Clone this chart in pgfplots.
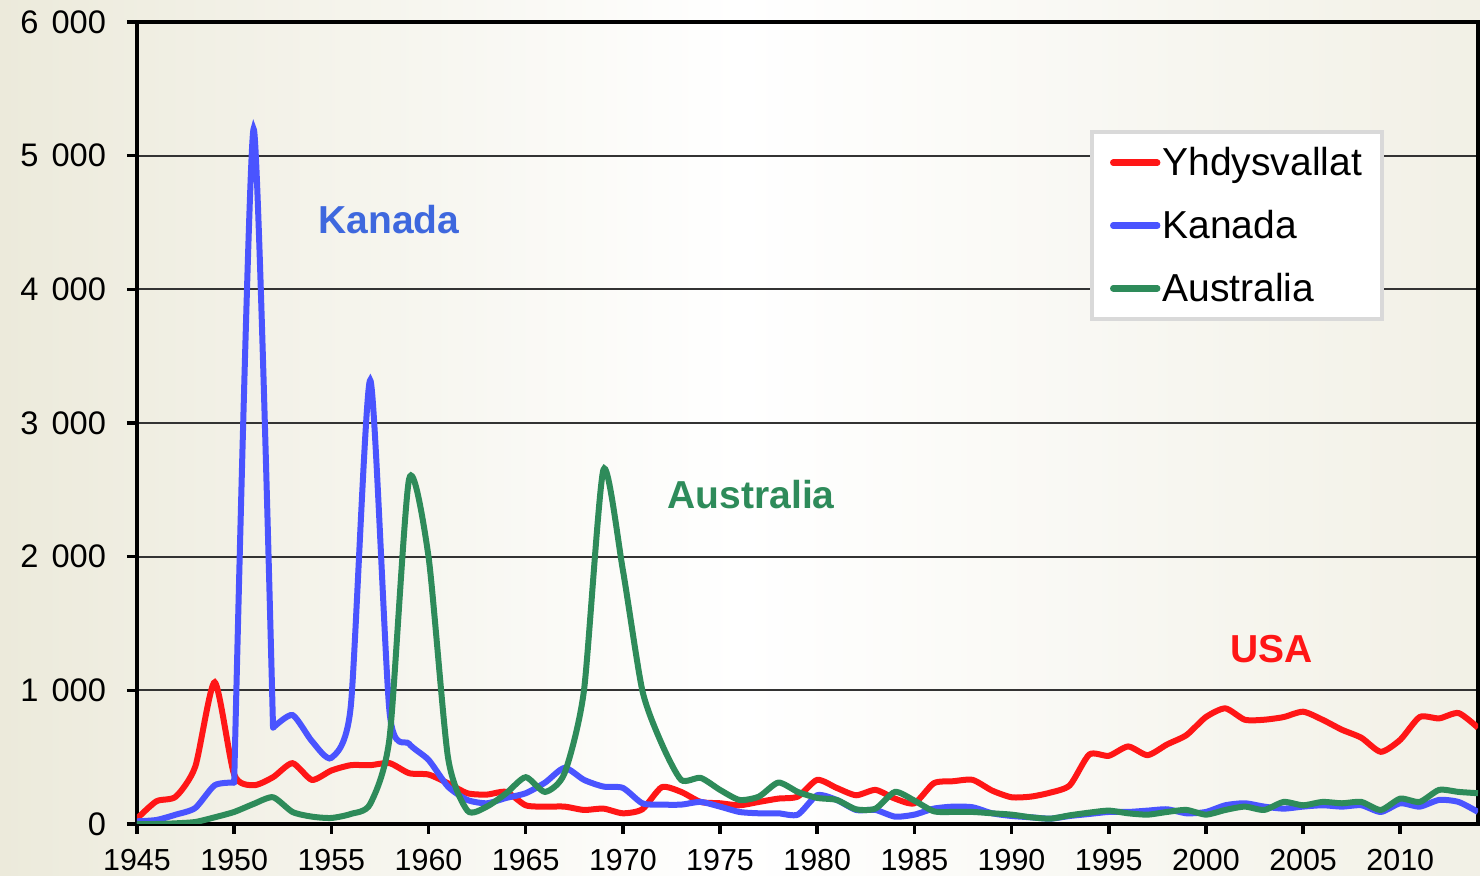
\documentclass[border=0pt]{standalone}
\usepackage{fontspec}
\setmainfont{Liberation Sans}
\usepackage{pgfplots}
\usepackage{pgfplotstable}
\pgfplotsset{compat=1.18}
\usetikzlibrary{backgrounds}
\definecolor{usared}{RGB}{255,22,22}
\definecolor{canblue}{RGB}{74,84,255}
\definecolor{ausgreen}{RGB}{46,139,90}
\definecolor{kantext}{RGB}{62,104,222}
\definecolor{bgbeige}{RGB}{236,234,219}

\pgfplotstableread{
year usa can aus
1945 40 20 0
1946 170 30 0
1947 205 70 5
1948 430 120 15
1949 1060 290 50
1950 370 310 90
1951 290 5200 150
1952 350 720 200
1953 455 815 90
1954 330 620 55
1955 400 495 45
1956 440 880 75
1957 440 3320 150
1958 455 830 650
1959 380 600 2580
1960 370 480 2000
1961 305 280 500
1962 230 180 100
1963 220 155 130
1964 240 195 230
1965 140 230 350
1966 130 310 240
1967 130 420 380
1968 105 330 1000
1969 115 280 2650
1970 80 270 1900
1971 110 155 1000
1972 275 145 600
1973 240 145 330
1974 165 165 345
1975 155 130 255
1976 140 90 180
1977 165 80 205
1978 190 80 310
1979 205 70 240
1980 330 215 195
1981 270 180 180
1982 215 105 110
1983 255 105 115
1984 190 55 240
1985 155 70 175
1986 305 115 95
1987 320 130 90
1988 330 125 90
1989 250 80 80
1990 200 60 70
1991 205 50 50
1992 235 40 40
1993 290 60 65
1994 520 75 85
1995 510 90 100
1996 580 90 80
1997 515 100 70
1998 595 110 90
1999 665 80 105
2000 800 90 70
2001 865 140 105
2002 780 155 130
2003 780 130 105
2004 800 115 165
2005 840 130 140
2006 780 140 165
2007 705 130 155
2008 645 140 165
2009 540 90 105
2010 630 155 190
2011 800 130 165
2012 790 180 255
2013 830 165 240
2014 720 90 230
}\datatable

\begin{document}
\begin{tikzpicture}
\begin{axis}[
  scale only axis,
  width=670.5pt, height=401pt,
  xmin=1945, xmax=2014, ymin=0, ymax=6000,
  xtick={1945,1950,...,2010},
  ytick={0,1000,...,6000},
  scaled y ticks=false,
  tick pos=left,
  tick align=outside,
  major tick length=5pt,
  every tick/.style={black, line width=1.8pt},
  axis line style={black, line width=1.8pt},
  ymajorgrids,
  major grid style={black!80, line width=1.1pt},
  clip mode=individual,
  /pgf/number format/assume math mode=true,
  xticklabel style={font=\fontsize{15.2}{18}\selectfont, /pgf/number format/1000 sep={}, yshift=-4pt},
  yticklabel style={font=\fontsize{16.3}{19}\selectfont, /pgf/number format/1000 sep={\hskip0.4em}, xshift=-7pt},
  legend style={at={(0.7107,0.8653)}, anchor=north west, draw=black!15, line width=2pt, fill=white,
    font=\fontsize{19.5}{22}\selectfont, inner xsep=9pt, inner ysep=1pt,
    nodes={inner xsep=1pt, inner ysep=6.5pt}, row sep=2.8pt},
  legend cell align=left,
  legend image code/.code={\draw[line width=3.2pt, line cap=round] (0pt,0pt) -- (22pt,0pt);},
]
\addplot[usared, line width=3pt, smooth, tension=0.4] table[x=year, y=usa] {\datatable};
\addlegendentry{Yhdysvallat}
\addplot[canblue, line width=3pt, smooth, tension=0.4, restrict x to domain=1952:2014] table[x=year, y=can] {\datatable};
\addlegendentry{Kanada}
\addplot[canblue, line width=3pt, smooth, tension=0.4, line cap=round, restrict x to domain=1945:1950, forget plot] table[x=year, y=can] {\datatable};
\addplot[canblue, line width=3pt, smooth, tension=0.4, line cap=round, restrict x to domain=1950:1952, forget plot] table[x=year, y=can] {\datatable};
\addplot[ausgreen, line width=3pt, smooth, tension=0.4] table[x=year, y=aus] {\datatable};
\addlegendentry{Australia}
\node[kantext, font=\fontsize{19.5}{22}\selectfont\bfseries] at (axis cs:1957.96,4525) {Kanada};
\node[ausgreen, font=\fontsize{19.5}{22}\selectfont\bfseries] at (axis cs:1976.6,2468) {Australia};
\node[usared, font=\fontsize{19.5}{22}\selectfont\bfseries] at (axis cs:2003.4,1309) {USA};
\coordinate (bl) at (rel axis cs:-0.10216,-0.06484);
\coordinate (tr) at (rel axis cs:1.00149,1.02743);
\end{axis}
\begin{scope}[on background layer]
\shade[left color=bgbeige, right color=bgbeige!70!white, middle color=white] (bl) rectangle (tr);
\end{scope}
\end{tikzpicture}
\end{document}
